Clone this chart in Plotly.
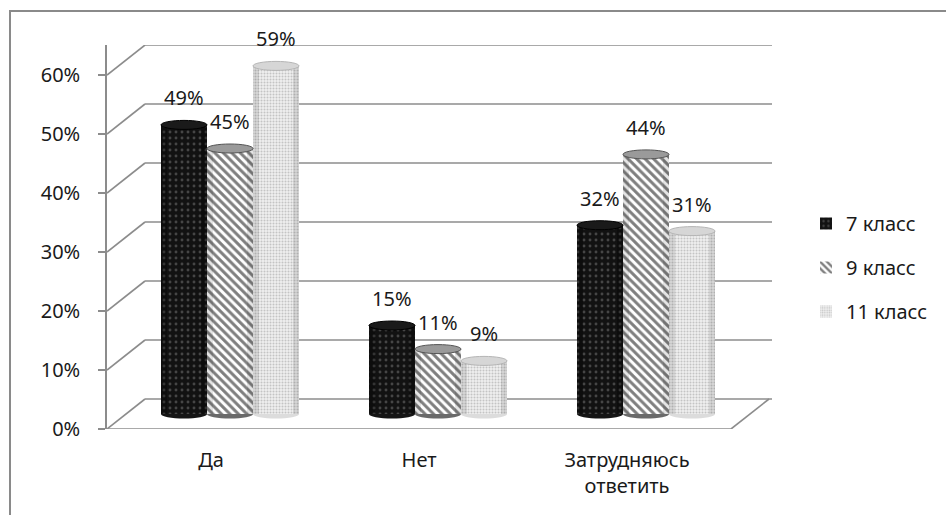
import plotly.graph_objects as go

# Survey answers by grade (share of respondents)
categories = ["Да", "Нет", "Затрудняюсь<br>ответить"]
series_names = ["7 класс", "9 класс", "11 класс"]
grade7 = [0.49, 0.15, 0.32]
grade9 = [0.45, 0.11, 0.44]
grade11 = [0.59, 0.09, 0.31]
y_ticks = [0, 0.1, 0.2, 0.3, 0.4, 0.5, 0.6]
y_tick_text = ["0%", "10%", "20%", "30%", "40%", "50%", "60%"]

series_values = [grade7, grade9, grade11]

# --- pseudo-3D geometry (in axis units) ---
px_per_x = 208.0          # pixels per category
px_per_y = 590.0          # pixels per 100 %
depth_dx = 38 / px_per_x  # shift of the back wall along x
depth_dy = 30 / px_per_y  # shift of the back wall along y
mid_dx, mid_dy = depth_dx / 2, depth_dy / 2   # bars sit at mid depth
bar_w = 46 / px_per_x
bargap = 1 - 3 * bar_w

L, R, T, B = 107, 175, 45, 86
W, H = 947, 515
plot_w = W - L - R
plot_h = H - T - B
x_min = -0.5
x_max = x_min + plot_w / px_per_x
y_max = plot_h / px_per_y

FONT = "Noto Sans"
FS = 20
GRID = "#8c8c8c"

styles = [
    dict(color="#121212", pattern=dict(shape=".", fgcolor="#7a7a7a", size=6, solidity=0.18, fillmode="overlay")),
    dict(color="#ffffff", pattern=dict(shape="\\", fgcolor="#000000", size=6, solidity=0.5, fillmode="overlay")),
    dict(color="#eeeeee", pattern=dict(shape=".", fgcolor="#9a9a9a", size=3, solidity=0.35, fillmode="overlay")),
]
cap_colors = ["#1a1a1a", "#9a9a9a", "#d6d6d6"]
cap_lines = ["#000000", "#555555", "#b5b5b5"]
bottom_colors = ["#151515", "#6a6a6a", "#dcdcdc"]
edge_shade = ["rgba(0,0,0,0.25)", "rgba(0,0,0,0.10)", "rgba(0,0,0,0.10)"]

fig = go.Figure()
x_idx = list(range(len(categories)))
for i, (name, vals) in enumerate(zip(series_names, series_values)):
    fig.add_trace(go.Bar(
        name=name,
        x=[c + mid_dx for c in x_idx],
        y=vals,
        base=[mid_dy] * len(vals),
        marker=dict(color=styles[i]["color"], pattern=styles[i]["pattern"], line=dict(width=0)),
        legendgroup=name,
        hoverinfo="skip",
    ))

shapes = []
line = dict(color=GRID, width=1.6)

# gridlines: left wall diagonal + back wall horizontal
for v in y_ticks:
    shapes.append(dict(type="line", xref="x", yref="y", x0=x_min, y0=v,
                       x1=x_min + depth_dx, y1=v + depth_dy, line=line, layer="below"))
    shapes.append(dict(type="line", xref="x", yref="y", x0=x_min + depth_dx, y0=v + depth_dy,
                       x1=x_max, y1=v + depth_dy, line=line, layer="below"))

# floor: front edge, right diagonal, category ticks
x_front_end = x_min + len(categories)
shapes.append(dict(type="line", xref="x", yref="y", x0=x_min, y0=0, x1=x_front_end, y1=0, line=line))
shapes.append(dict(type="line", xref="x", yref="y", x0=x_front_end, y0=0,
                   x1=x_front_end + depth_dx, y1=depth_dy, line=line))
for k in range(len(categories) + 1):
    xk = x_min + k
    shapes.append(dict(type="line", xref="x", yref="y", x0=xk, y0=0, x1=xk, y1=-6 / px_per_y, line=line))

# cylinder caps, rounded bottoms and edge shading
cap_h = 4.5 / px_per_y
edge_w = 6 / px_per_x
for i, vals in enumerate(series_values):
    for c, v in zip(x_idx, vals):
        xc = c + mid_dx + (i - 1) * bar_w
        top = v + mid_dy
        shapes.append(dict(type="circle", xref="x", yref="y",
                           x0=xc - bar_w / 2, x1=xc + bar_w / 2,
                           y0=mid_dy - cap_h, y1=mid_dy + cap_h,
                           fillcolor=bottom_colors[i], line=dict(width=0), layer="below"))
        for x0 in (xc - bar_w / 2, xc + bar_w / 2 - edge_w):
            shapes.append(dict(type="rect", xref="x", yref="y",
                               x0=x0, x1=x0 + edge_w, y0=mid_dy, y1=top,
                               fillcolor=edge_shade[i], line=dict(width=0)))
        shapes.append(dict(type="circle", xref="x", yref="y",
                           x0=xc - bar_w / 2, x1=xc + bar_w / 2,
                           y0=top - cap_h, y1=top + cap_h,
                           fillcolor=cap_colors[i], line=dict(color=cap_lines[i], width=1)))

# outer chart border as one open path: up the left edge, then along the top
px2paper_x = lambda p: (p - L) / plot_w
px2paper_y = lambda p: (H - B - p) / plot_h
bx0, bx1 = px2paper_x(10), px2paper_x(946)
by_top, by_bot = px2paper_y(11), px2paper_y(515)
shapes.append(dict(type="path", xref="paper", yref="paper",
                   path=f"M {bx0},{by_bot} L {bx0},{by_top} L {bx1},{by_top}",
                   line=dict(color="#8a8a8a", width=2), layer="above"))

# value labels above each cylinder
annotations = []
for i, vals in enumerate(series_values):
    for c, v in zip(x_idx, vals):
        xc = c + mid_dx + (i - 1) * bar_w
        annotations.append(dict(x=xc, y=v + mid_dy, xref="x", yref="y",
                                text=f"{round(v * 100)}%", showarrow=False,
                                yshift=27, font=dict(family=FONT, size=FS, color="#1a1a1a")))

fig.update_layout(
    width=W, height=H,
    margin=dict(l=L, r=R, t=T, b=B),
    paper_bgcolor="white", plot_bgcolor="white",
    barmode="group", bargap=bargap, bargroupgap=0,
    font=dict(family=FONT, size=FS, color="#1a1a1a"),
    shapes=shapes, annotations=annotations,
    showlegend=True,
    legend=dict(x=px2paper_x(806), y=px2paper_y(204), xanchor="left", yanchor="top",
                font=dict(family=FONT, size=FS), tracegroupgap=15,
                bgcolor="rgba(0,0,0,0)"),
    xaxis=dict(range=[x_min, x_max], tickvals=x_idx, ticktext=categories,
               showgrid=False, zeroline=False, showline=False, ticks="",
               ticklabelstandoff=17, fixedrange=True),
    yaxis=dict(range=[0, y_max], tickvals=y_ticks, ticktext=y_tick_text,
               showgrid=False, zeroline=False, showline=True, linecolor=GRID, linewidth=1.6,
               ticks="outside", ticklen=7, tickcolor=GRID, tickwidth=1.6,
               ticklabelstandoff=14, fixedrange=True),
)

fig.write_html("out.html")
